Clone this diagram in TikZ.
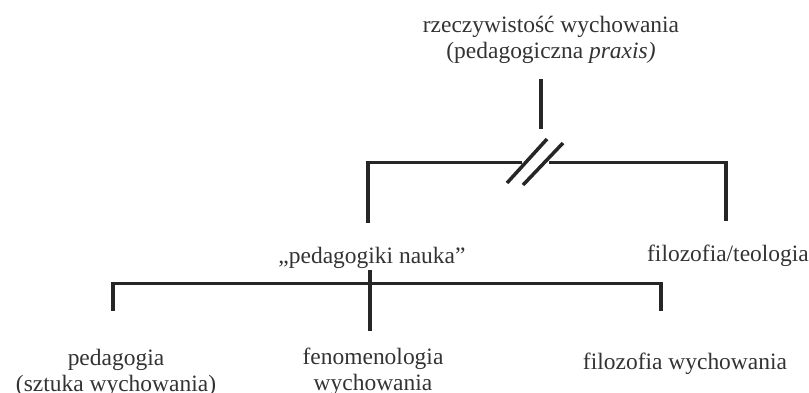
\documentclass[tikz,border=0pt]{standalone}
\usepackage{fontspec}
\setmainfont{Liberation Serif}
\begin{document}
\begin{tikzpicture}

\tikzset{tekst/.style={inner sep=0pt,align=center,text=black!80,font=\fontsize{16.7pt}{18.4pt}\selectfont}}
\tikzset{kreska/.style={line width=2.5pt,black!85,line join=miter},}

\useasboundingbox (0,0) rectangle (20.225,-9.8);

\draw (13.775,-1.0) node[tekst](praxis) {rzeczywistość wychowania\\(pedagogiczna \textit{praxis)}};
\draw (9.3,-6.45) node[tekst](nauka) {„pedagogiki nauka”};
\draw (18.2,-6.4) node[tekst](teologia) {filozofia/teologia};
\draw (2.9,-9.315) node[tekst](sztuka) {pedagogia\\(sztuka wychowania)};
\draw (9.325,-9.3) node[tekst](fenom) {fenomenologia\\wychowania};
\draw (17.125,-9.1) node[tekst](filwych) {filozofia wychowania};

\coordinate (p1) at (13.525,-1.975);
\coordinate (p2) at (13.525,-3.225);
\coordinate (n1) at (9.2,-5.575);
\coordinate (t1) at (18.15,-5.525);
\coordinate (h1) at (13.05,-4.06);
\coordinate (h2) at (13.725,-4.06);
\coordinate (n2) at (9.25,-6.75);
\coordinate (n3) at (9.25,-8.275);
\coordinate (s1) at (2.825,-7.775);
\coordinate (f1) at (16.525,-7.775);
\coordinate (d1) at (2.825,-7.09);

\draw[kreska] (p1) -- (p2);
\draw[kreska] (n1) |- (h1);
\draw[kreska] (h2) -| (t1);
\draw[kreska] (12.675,-4.575) -- (13.675,-3.475);
\draw[kreska] (13.075,-4.625) -- (14.075,-3.575);
\draw[kreska] (n2) -- (n3);
\draw[kreska] (s1) |- (f1 |- d1) -- (f1);

\end{tikzpicture}
\end{document}
